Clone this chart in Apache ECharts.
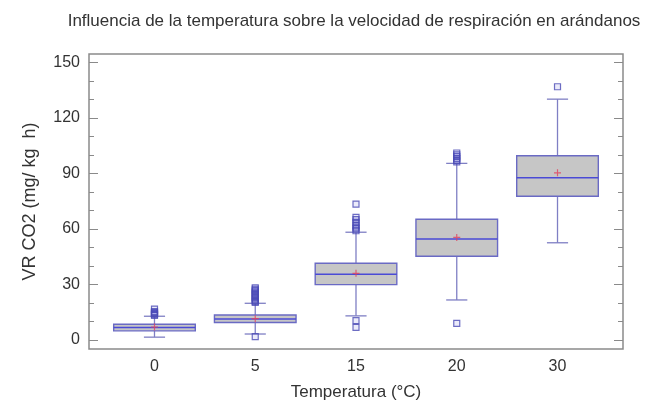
<!DOCTYPE html>
<html>
<head>
<meta charset="utf-8">
<script src="https://cdn.jsdelivr.net/npm/echarts@6/dist/echarts.min.js"></script>
<style>
  html, body { margin: 0; padding: 0; background: #fff; }
  #chart { width: 647px; height: 409px; }
</style>
</head>
<body>
<div id="chart"></div>
<script>
// Temperature groups (°C) on the horizontal axis
const temperatures = ['0', '5', '15', '20', '30'];

// Box statistics per group: [lower whisker, Q1, median, Q3, upper whisker]
const lowerWhisker = [1.5, 3.2, 13.0, 21.6, 52.5];
const quartile1    = [4.9, 9.4, 29.9, 45.2, 77.6];
const medians      = [6.7, 11.3, 35.5, 54.5, 87.6];
const quartile3    = [8.5, 13.5, 41.4, 65.2, 99.5];
const upperWhisker = [12.8, 19.8, 58.2, 95.4, 130.1];
const means        = [7.0, 11.5, 36.0, 55.4, 90.3];

// Outlying observations per group
const outliers0  = [13.3, 13.8, 14.3, 14.8, 15.3, 16.7];
const outliers5  = [1.8, 20.3, 20.8, 21.5, 22.2, 23.0, 23.8, 24.5, 25.3, 26.0, 26.8, 27.5, 28.2];
const outliers15 = [6.8, 10.4, 59.0, 60.0, 61.0, 62.0, 63.5, 65.0, 66.2, 73.4];
const outliers20 = [9.0, 96.2, 97.0, 98.0, 99.0, 100.0, 101.0];
const outliers30 = [136.8];

// Y axis tick marks
const yLabelTicks = [0, 30, 60, 90, 120, 150];
const yMinorTicks = [10, 20, 40, 50, 70, 80, 100, 110, 130, 140];

const FONT = "'Liberation Sans', Arial, sans-serif";
const BOX_FILL = '#c6c6c6';
const BOX_EDGE = '#6a6ac4';
const MEDIAN_COLOR = '#4a4ad6';
const WHISKER_COLOR = '#7f7fc4';
const OUTLIER_EDGE = '#4a4ab4';
const OUTLIER_FILL = 'rgba(50,50,200,0.12)';
const MEAN_COLOR = '#e2405c';
const FRAME = '#8a8a8a';

const Y_MIN = -4.9, Y_MAX = 154.5;
const X_MIN = -0.65, X_MAX = 4.65;

const boxData = temperatures.map((t, i) => [
  i, lowerWhisker[i], quartile1[i], medians[i], quartile3[i], upperWhisker[i]
]);
const outlierGroups = [outliers0, outliers5, outliers15, outliers20, outliers30];
const outlierData = [];
outlierGroups.forEach((list, i) => list.forEach(v => outlierData.push([i, v])));
const meanData = means.map((m, i) => [i, m]);

// Box, median line and capped whiskers for one temperature group
function renderBox(params, api) {
  const x = api.value(0);
  const lo = api.coord([x, api.value(1)]);
  const q1 = api.coord([x, api.value(2)]);
  const md = api.coord([x, api.value(3)]);
  const q3 = api.coord([x, api.value(4)]);
  const hi = api.coord([x, api.value(5)]);
  const unit = api.size([1, 0])[0];
  const half = unit * 0.81 / 2;
  const cap = unit * 0.21 / 2;
  const cx = lo[0];
  const wStyle = { stroke: WHISKER_COLOR, lineWidth: 1.3 };
  return {
    type: 'group',
    children: [
      { type: 'line', shape: { x1: cx, y1: q3[1], x2: cx, y2: hi[1] }, style: wStyle },
      { type: 'line', shape: { x1: cx, y1: q1[1], x2: cx, y2: lo[1] }, style: wStyle },
      { type: 'line', shape: { x1: cx - cap, y1: hi[1], x2: cx + cap, y2: hi[1] }, style: wStyle },
      { type: 'line', shape: { x1: cx - cap, y1: lo[1], x2: cx + cap, y2: lo[1] }, style: wStyle },
      { type: 'rect', shape: { x: cx - half, y: q3[1], width: half * 2, height: q1[1] - q3[1] },
        style: { fill: BOX_FILL, stroke: BOX_EDGE, lineWidth: 1.4 } },
      { type: 'line', shape: { x1: cx - half, y1: md[1], x2: cx + half, y2: md[1] },
        style: { stroke: MEDIAN_COLOR, lineWidth: 1.4 } }
    ]
  };
}

const tickStyle = { color: FRAME, width: 1 };
function tickAxis(position, values, len, withLabels) {
  const ax = {
    type: 'value', min: Y_MIN, max: Y_MAX, position: position,
    axisLine: { show: false, onZero: false },
    splitLine: { show: false },
    axisTick: { show: true, inside: true, length: len, customValues: values, lineStyle: tickStyle },
    axisLabel: { show: false }
  };
  if (withLabels) {
    ax.axisLabel = { show: true, customValues: values, margin: 9, color: '#333', fontSize: 16, fontFamily: FONT };
    ax.name = 'VR CO2 (mg/ kg  h)';
    ax.nameLocation = 'middle';
    ax.nameRotate = 90;
    ax.nameGap = 50;
    ax.nameTextStyle = { color: '#333', fontSize: 18, fontFamily: FONT };
  }
  return ax;
}

const chart = echarts.init(document.getElementById('chart'), null, { renderer: 'canvas' });
chart.setOption({
  animation: false,
  backgroundColor: '#fff',
  graphic: [{
    type: 'text', x: 354, y: 21,
    style: {
      text: 'Influencia de la temperatura sobre la velocidad de respiración en arándanos',
      align: 'center', verticalAlign: 'middle', fill: '#333', font: '17px ' + FONT
    }
  }],
  grid: {
    left: 89, top: 54, width: 534, height: 295,
    show: true, borderColor: FRAME, borderWidth: 1.5, backgroundColor: 'transparent'
  },
  xAxis: {
    type: 'value', min: X_MIN, max: X_MAX,
    axisLine: { show: false, onZero: false }, axisTick: { show: false }, splitLine: { show: false },
    axisLabel: {
      customValues: [0, 1, 2, 3, 4], margin: 10, color: '#333', fontSize: 16, fontFamily: FONT,
      formatter: v => temperatures[Math.round(v)]
    },
    name: 'Temperatura (°C)', nameLocation: 'middle', nameGap: 35,
    nameTextStyle: { color: '#333', fontSize: 17, fontFamily: FONT }
  },
  yAxis: [
    tickAxis('left', yLabelTicks, 9, true),
    tickAxis('left', yMinorTicks, 5, false),
    tickAxis('right', yLabelTicks, 9, false),
    tickAxis('right', yMinorTicks, 5, false)
  ],
  series: [
    { type: 'custom', name: 'box', renderItem: renderBox, data: boxData, encode: { x: 0, y: [1, 2, 3, 4, 5] }, z: 2 },
    {
      type: 'scatter', name: 'outliers', data: outlierData, symbol: 'rect', symbolSize: 6, z: 3,
      itemStyle: { color: OUTLIER_FILL, borderColor: OUTLIER_EDGE, borderWidth: 1.2 }
    },
    {
      type: 'scatter', name: 'mean', data: meanData, z: 4, symbolSize: 7,
      symbol: 'path://M2.5,0H3.5V2.5H6V3.5H3.5V6H2.5V3.5H0V2.5H2.5Z',
      itemStyle: { color: MEAN_COLOR }
    }
  ]
});
</script>
</body>
</html>
